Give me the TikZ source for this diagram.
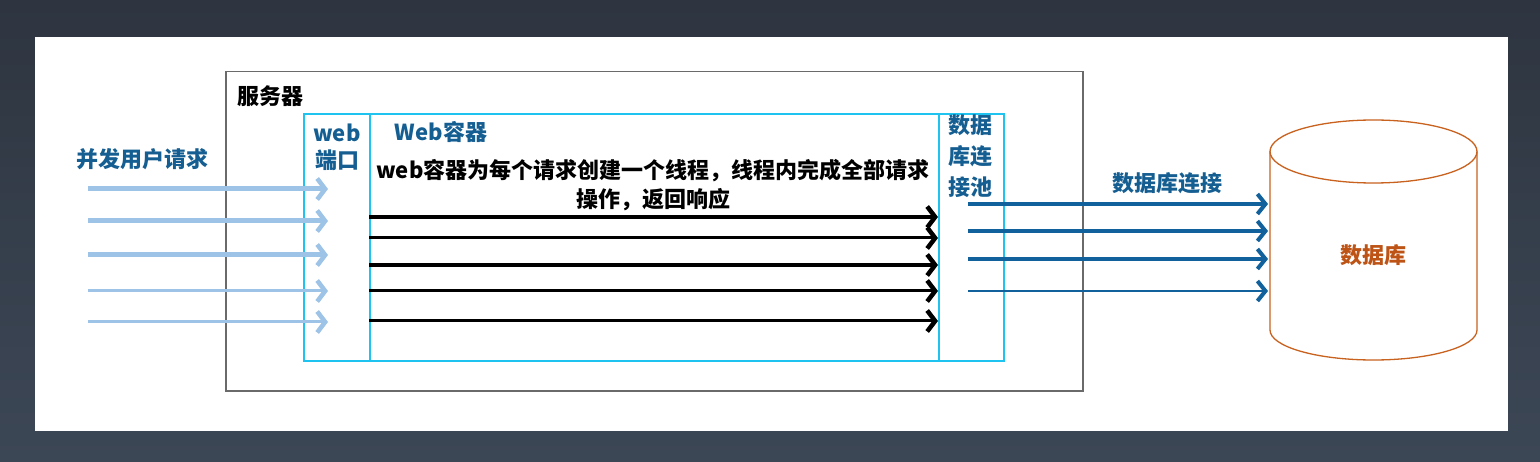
\documentclass[tikz,border=0pt]{standalone}
\usepackage{fontspec}
\newfontfamily\cjk{Noto Sans CJK SC}
\usetikzlibrary{arrows.meta}
\definecolor{bgtop}{HTML}{2E3540}
\definecolor{bgbot}{HTML}{3C4756}
\definecolor{lblue}{HTML}{9DC3E6}
\definecolor{dblue}{HTML}{11629C}
\definecolor{tblue}{HTML}{155E92}
\definecolor{cyanb}{HTML}{1EC3F0}
\definecolor{orng}{HTML}{C8621E}
\definecolor{otext}{HTML}{BD5315}
\definecolor{gline}{HTML}{6A6A6A}
\begin{document}
\begin{tikzpicture}[x=1pt,y=-1pt,
  txt/.style={font=\cjk\bfseries\fontsize{22}{29}\selectfont, inner sep=0pt, align=center},
  box/.style={draw=cyanb, line width=1.8pt, anchor=north west, inner sep=0pt},
  reqarrow/.style={draw=lblue, -{Straight Barb[length=8pt,width=21pt,line width=4.5pt]}},
  thrarrow/.style={draw=black, -{Straight Barb[length=8pt,width=21pt,line width=4.5pt]}},
  dbarrow/.style={draw=dblue, -{Straight Barb[length=8pt,width=20pt,line width=4pt]}}
]
\useasboundingbox (0,0) rectangle (1540,462);
\shade[top color=bgtop, bottom color=bgbot] (0,0) rectangle (1540,462);
\fill[white] (35,37) rectangle (1508,431);

% server box
\node[draw=gline, line width=1.5pt, anchor=north west, minimum width=857pt, minimum height=319pt, inner sep=0pt] (server) at (225,71) {};
\node[txt, text=black] (serverlbl) at (270,96) {服务器};

% inner boxes
\node[box, minimum width=66pt, minimum height=247pt] (port) at (303,113) {};
\node[box, minimum width=569pt, minimum height=247pt] (cont) at (369,113) {};
\node[box, minimum width=65pt, minimum height=247pt] (pool) at (938,113) {};

\node[txt, text=tblue, font=\cjk\bfseries\fontsize{22}{27}\selectfont] (portlbl) at (337,147) {web\\端口};
\node[txt, text=tblue] (contlbl) at (441,132) {Web容器};
\node[txt, text=black] (desc) at (653,185) {web容器为每个请求创建一个线程，线程内完成全部请求\\操作，返回响应};
\node[txt, text=tblue, font=\cjk\bfseries\fontsize{22}{31}\selectfont] (poollbl) at (970,156) {数据\\库连\\接池};

\node[txt, text=tblue] (users) at (142,159) {并发用户请求};
\node[txt, text=tblue] (conn) at (1167,183) {数据库连接};

% database cylinder
\node[inner sep=0pt, minimum width=207pt, minimum height=240pt, anchor=north west] (db) at (1270,120) {};
\draw[orng, line width=1.3pt] (1373.5,151.5) ellipse [x radius=103.5pt, y radius=31.5pt];
\draw[orng, line width=1.3pt] (1270,151.5) -- (1270,330) arc[start angle=180, end angle=360, x radius=103.5pt, y radius=30pt] -- (1477,151.5);
\node[txt, text=otext] (dblbl) at (1373,255) {数据库};

% request arrows
\foreach \y/\w [count=\i] in {189/5,221/5,255/5,291/3,322/3}{
  \coordinate (u\i) at (88,\y);
  \coordinate (p\i) at (port.west |- u\i);
  \draw[reqarrow, line width=\w pt] (u\i) -- ([xshift=25pt]p\i);
}
% thread arrows
\foreach \y/\w [count=\i] in {217/4.5,238/3,265/4.5,291/3,321/3}{
  \coordinate (t\i) at (cont.west |- 0,\y);
  \coordinate (e\i) at (pool.west |- 0,\y);
  \draw[thrarrow, line width=\w pt] (t\i) -- (e\i);
}
% db arrows
\foreach \y/\w [count=\i] in {204/4,231/4,259/4,291/2.5}{
  \coordinate (c\i) at (968,\y);
  \coordinate (d\i) at (db.west |- 0,\y);
  \draw[dbarrow, line width=\w pt] (c\i) -- ([xshift=-2pt]d\i);
}
\end{tikzpicture}
\end{document}
